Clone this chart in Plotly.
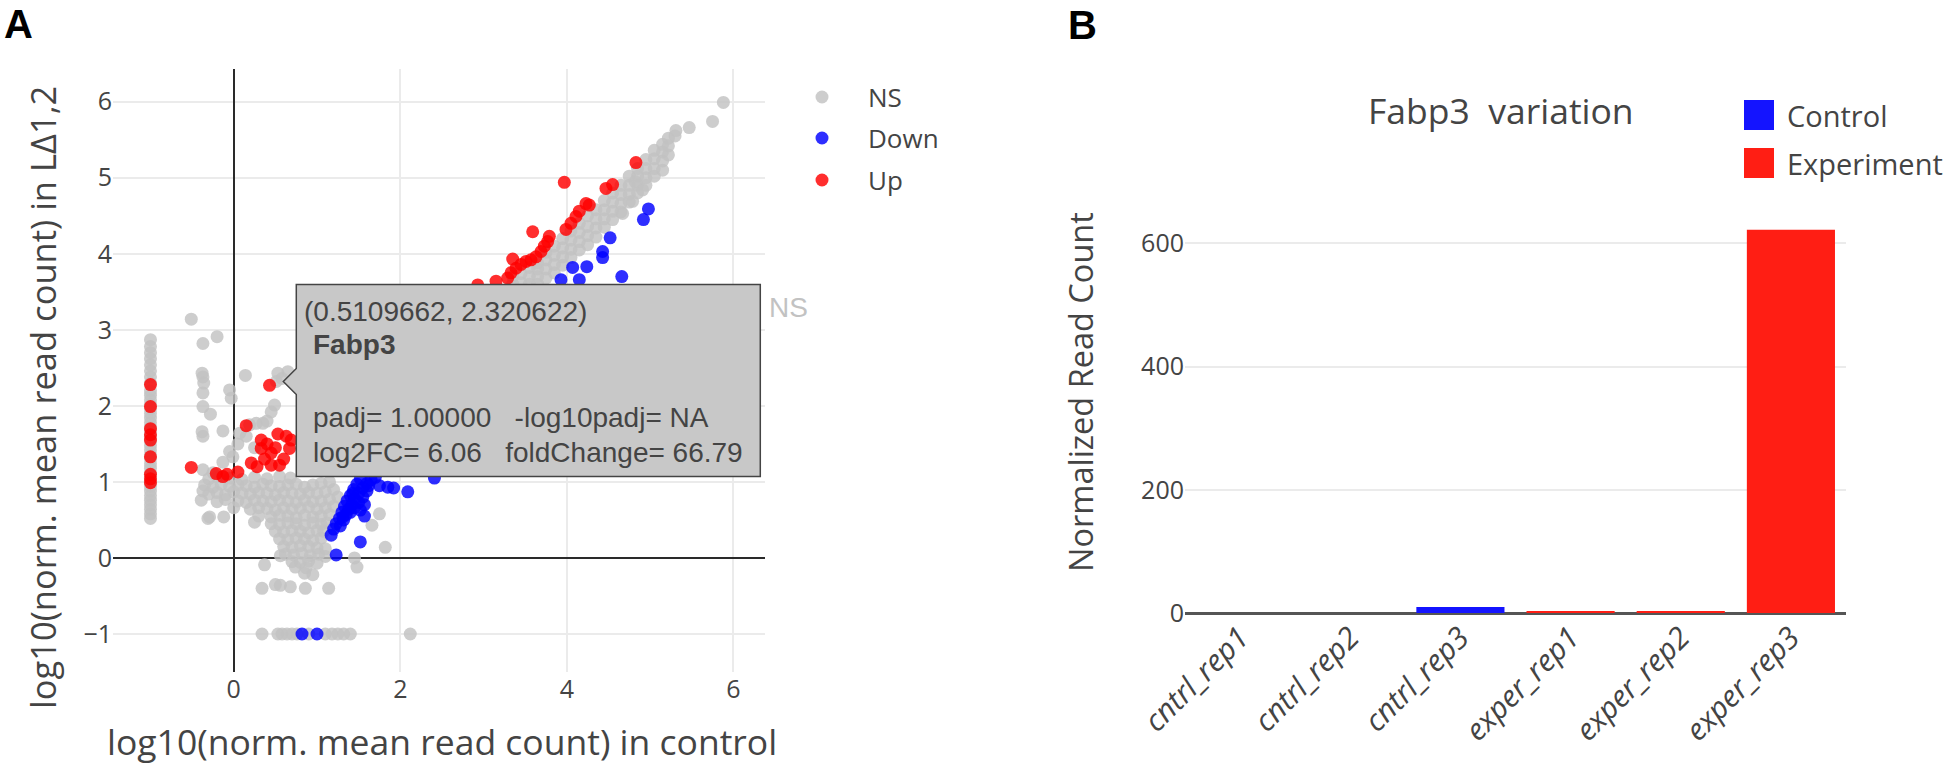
import plotly.graph_objects as go

W, H = 1946, 764

# ---------------- Panel A data (log10 normalized mean read counts) ----------------
ns_col_x = [-1.0, -1.0, -1.0, -1.0, -1.0, -1.0, -1.0, -1.0, -1.0, -1.0, -1.0, -1.0, -1.0,
            -1.0, -1.0, -1.0, -1.0, -1.0, -1.0, -1.0, -1.0, -1.0, -1.0, -1.0, -1.0, -1.0,
            -1.0, -1.0, -1.0, -1.0, -1.0, -1.0, -1.0, -1.0, -1.0, -1.0, -1.0]
ns_col_y = [0.52, 0.58, 0.64, 0.70, 0.76, 0.82, 0.88, 0.94, 1.00, 1.06, 1.12, 1.18, 1.24,
            1.30, 1.36, 1.42, 1.48, 1.54, 1.60, 1.66, 1.72, 1.78, 1.84, 1.90, 1.96, 2.02,
            2.08, 2.14, 2.20, 2.30, 2.38, 2.46, 2.54, 2.62, 2.70, 2.78, 2.87]

ns_left_x = [-0.51, -0.37, -0.20, -0.37, -0.37, -0.37, -0.28, -0.37, -0.13, -0.05, -0.03,
             0.14, 0.49, 0.53, 0.65, 0.58, -0.37, -0.25, 0.19, 0.27, 0.35, -0.01, -0.13,
             0.05, 0.15, -0.38, -0.36, -0.38, 0.40, 0.45, 0.25, 0.07, -0.05]
ns_left_y = [3.14, 2.82, 2.91, 2.38, 2.17, 1.99, 1.89, 1.60, 1.67, 2.21, 2.10,
             2.40, 2.01, 2.43, 2.45, 2.36, 1.16, 1.12, 1.75, 1.77, 1.77, 1.33, 1.26,
             1.50, 1.60, 2.43, 2.30, 1.66, 1.80, 1.92, 1.45, 1.64, 1.40]

ns_cloud_x = [-0.30, -0.20, -0.05, 0.10, 0.25, 0.40, 0.55, 0.68,
              -0.35, -0.25, -0.15, -0.05, 0.05, 0.15, 0.25, 0.35, 0.45, 0.55, 0.65, 0.75, 0.85, 0.95, 1.05, 1.15,
              -0.30, -0.20, -0.10, 0.00, 0.10, 0.20, 0.30, 0.40, 0.50, 0.60, 0.70, 0.80, 0.90, 1.00, 1.10, 1.20,
              -0.20, -0.10, 0.05, 0.15, 0.25, 0.35, 0.45, 0.55, 0.65, 0.75, 0.85, 0.95, 1.05, 1.15, 1.25,
              0.00, 0.20, 0.30, 0.40, 0.50, 0.60, 0.70, 0.80, 0.90, 1.00, 1.10, 1.20,
              0.30, 0.45, 0.55, 0.65, 0.75, 0.85, 0.95, 1.05, 1.15,
              0.45, 0.55, 0.65, 0.75, 0.85, 0.95, 1.05, 1.12,
              0.50, 0.60, 0.70, 0.80, 0.90, 1.00, 1.08,
              0.55, 0.65, 0.75, 0.85, 0.95, 1.05,
              0.60, 0.70, 0.80, 0.90, 1.00, 1.10,
              0.62, 0.72, 0.82, 0.92, 1.02, 1.10,
              0.70, 0.80, 0.90, 1.00,
              0.37, 0.74, 0.87, 1.48, 0.85, 0.95, 1.45, 1.82, 0.56,
              0.34, 0.50, 0.56, 0.68, 0.86, 1.14,
              1.66, 1.75, -0.39, -0.31, 0.25, -0.12, -0.37, -0.29,
              0.34, 0.53, 0.58, 0.64, 0.70, 0.76, 0.90, 1.10, 1.18, 1.25, 1.32, 1.40, 2.12]
ns_cloud_y = [1.04, 1.07, 1.05, 1.03, 1.06, 1.04, 1.07, 1.05,
              0.96, 0.93, 0.97, 0.94, 0.96, 0.95, 0.93, 0.97, 0.95, 0.94, 0.96, 0.97, 0.93, 0.96, 0.98, 1.00,
              0.84, 0.86, 0.83, 0.87, 0.85, 0.84, 0.86, 0.85, 0.83, 0.86, 0.85, 0.84, 0.86, 0.85, 0.87, 0.90,
              0.74, 0.77, 0.75, 0.73, 0.76, 0.75, 0.74, 0.76, 0.75, 0.73, 0.76, 0.74, 0.75, 0.77, 0.80,
              0.66, 0.64, 0.66, 0.65, 0.63, 0.66, 0.64, 0.65, 0.67, 0.64, 0.66, 0.68,
              0.55, 0.54, 0.56, 0.55, 0.53, 0.56, 0.54, 0.55, 0.57,
              0.45, 0.44, 0.46, 0.45, 0.43, 0.46, 0.44, 0.46,
              0.35, 0.34, 0.36, 0.35, 0.33, 0.36, 0.35,
              0.25, 0.24, 0.26, 0.25, 0.23, 0.26,
              0.15, 0.14, 0.16, 0.15, 0.13, 0.12,
              0.05, 0.04, 0.06, 0.03, 0.05, 0.02,
              -0.05, -0.06, -0.04, -0.07,
              -0.09, -0.12, -0.13, -0.12, -0.20, -0.22, 0.00, 0.14, 0.03,
              -0.40, -0.35, -0.36, -0.38, -0.40, -0.40,
              0.43, 0.58, 0.76, 0.52, 0.47, 0.54, 0.88, 0.54,
              -1.0, -1.0, -1.0, -1.0, -1.0, -1.0, -1.0, -1.0, -1.0, -1.0, -1.0, -1.0, -1.0]

ns_band_x = [3.35, 3.35, 3.45, 3.45, 3.55, 3.55, 3.55,
             3.65, 3.65, 3.65, 3.65, 3.75, 3.75, 3.75, 3.75, 3.85, 3.85, 3.85, 3.85,
             3.95, 3.95, 3.95, 3.95, 4.05, 4.05, 4.05, 4.05, 4.15, 4.15, 4.15, 4.15,
             4.25, 4.25, 4.25, 4.25, 4.35, 4.35, 4.35, 4.35, 4.45, 4.45, 4.45, 4.45,
             4.55, 4.55, 4.55, 4.55, 4.65, 4.65, 4.65, 4.65, 4.75, 4.75, 4.75, 4.75,
             4.85, 4.85, 4.85, 4.85, 4.95, 4.95, 4.95, 4.95, 5.05, 5.05, 5.05, 5.05,
             5.15, 5.15, 5.15, 5.15, 5.22, 5.22, 5.22,
             5.31, 5.30, 5.47, 5.75, 5.88, 4.67, 4.79, 4.91, 4.82,
             1.30, 1.60, 1.90, 2.20, 2.50, 2.80, 3.10, 2.00, 2.60, 3.20]
ns_band_y = [3.60, 3.70, 3.62, 3.74, 3.60, 3.70, 3.82,
             3.60, 3.70, 3.80, 3.88, 3.68, 3.80, 3.92, 4.02, 3.75, 3.86, 3.98, 4.10,
             3.85, 3.96, 4.08, 4.20, 3.95, 4.06, 4.18, 4.30, 4.05, 4.16, 4.28, 4.40,
             4.12, 4.24, 4.36, 4.50, 4.22, 4.34, 4.46, 4.58, 4.35, 4.46, 4.58, 4.70,
             4.45, 4.56, 4.68, 4.80, 4.55, 4.66, 4.78, 4.90, 4.68, 4.78, 4.90, 5.02,
             4.80, 4.90, 5.02, 5.12, 4.90, 5.00, 5.12, 5.24, 5.02, 5.12, 5.25, 5.36,
             5.10, 5.22, 5.34, 5.44, 5.30, 5.42, 5.52,
             5.62, 5.55, 5.66, 5.74, 5.99, 4.53, 4.69, 4.84, 4.95,
             1.20, 1.50, 1.80, 2.10, 2.40, 2.80, 3.20, 2.20, 2.70, 3.40]

down_x = [1.17, 1.20, 1.23, 1.27, 1.30, 1.33, 1.36, 1.40, 1.44, 1.48, 1.52,
          1.28, 1.32, 1.35, 1.38, 1.42, 1.45, 1.50, 1.55, 1.60, 1.65, 1.70,
          1.40, 1.45, 1.50, 1.55, 1.60, 1.62, 1.52, 1.57,
          1.85, 1.92, 2.09, 2.41, 1.52, 1.23, 1.57, 1.75, 1.31, 1.43, 0.82, 1.00,
          4.98, 4.92, 4.52, 4.43, 4.43, 4.24, 4.07, 4.66, 3.93, 4.15,
          2.30, 2.70, 3.10, 3.50]
down_y = [0.30, 0.38, 0.45, 0.52, 0.60, 0.68, 0.75, 0.82, 0.90, 0.97, 1.04,
          0.42, 0.50, 0.57, 0.64, 0.70, 0.78, 0.85, 0.92, 0.98, 1.03, 1.06,
          0.60, 0.66, 0.73, 0.80, 0.88, 0.95, 0.63, 0.70,
          0.93, 0.92, 0.87, 1.05, 0.21, 0.04, 0.55, 0.95, 0.54, 0.85, -1.0, -1.0,
          4.59, 4.45, 4.21, 4.03, 3.95, 3.83, 3.82, 3.70, 3.66, 3.66,
          1.70, 2.10, 2.60, 3.00]

up_x = [-1.0, -1.0, -1.0, -1.0, -1.0, -1.0, -1.0, -1.0, -1.0,
        -0.51, -0.21, -0.13, -0.08, 0.05, 0.15, 0.43, 0.33, 0.21, 0.33, 0.37,
        0.45, 0.55, 0.45, 0.53, 0.63, 0.67, 0.69, 0.28, 0.60, 0.40, 0.50,
        4.83, 3.97, 4.47, 4.55, 4.23, 4.27, 4.15, 4.11, 4.05, 3.99, 3.59, 3.79,
        3.77, 3.73, 3.69, 3.63, 3.57, 3.51, 3.45, 3.39, 3.35, 3.33, 3.29, 3.15, 2.93,
        1.00, 1.50, 2.00, 2.50]
up_y = [2.28, 1.99, 1.70, 1.62, 1.55, 1.33, 1.10, 1.04, 0.99,
        1.19, 1.11, 1.07, 1.10, 1.13, 1.74, 2.27, 1.55, 1.25, 1.44, 1.30,
        1.22, 1.22, 1.38, 1.63, 1.60, 1.44, 1.55, 1.20, 1.30, 1.50, 1.45,
        5.20, 4.94, 4.86, 4.91, 4.66, 4.64, 4.56, 4.49, 4.40, 4.32, 4.29, 4.23,
        4.16, 4.10, 4.03, 3.96, 3.92, 3.90, 3.86, 3.81, 3.93, 3.75, 3.68, 3.64, 3.59,
        1.60, 2.10, 2.60, 3.10]

# hovered gene
fabp3_x = 0.5109662
fabp3_y = 2.320622
fabp3_padj = "1.00000"
fabp3_log10padj = "NA"
fabp3_log2fc = 6.06
fabp3_foldchange = 66.79

ns_x = ns_col_x + ns_left_x + ns_cloud_x + ns_band_x + [fabp3_x]
ns_y = ns_col_y + ns_left_y + ns_cloud_y + ns_band_y + [fabp3_y]

x_ticks_a = [0, 2, 4, 6]
y_ticks_a = [-1, 0, 1, 2, 3, 4, 5, 6]

# ---------------- Panel B data ----------------
ctrl_samples = ["cntrl_rep1", "cntrl_rep2", "cntrl_rep3"]
ctrl_counts = [0.0, 0.0, 9.73]
exper_samples = ["exper_rep1", "exper_rep2", "exper_rep3"]
exper_counts = [2.7, 2.9, 622.1]
y_ticks_b = [0, 200, 400, 600]

NS_COLOR = "#c2c2c2"
DOWN_COLOR = "#0000ff"
UP_COLOR = "#ff0000"
CTRL_COLOR = "#1414ff"
EXPER_COLOR = "#ff1e14"
TXT = "#444444"
GRID = "#ebebeb"
FONT = "Open Sans, DejaVu Sans, sans-serif"
ARIAL = "Liberation Sans, Arial, sans-serif"


def fx(p):
    return p / W


def fy(p):
    return 1 - p / H


fig = go.Figure()
for xs, ys, nm, col in [(ns_x, ns_y, "NS", NS_COLOR),
                        (down_x, down_y, "Down", DOWN_COLOR),
                        (up_x, up_y, "Up", UP_COLOR)]:
    fig.add_trace(go.Scatter(x=xs, y=ys, mode="markers", name=nm,
                             marker=dict(color=col, size=13, opacity=0.82, line=dict(width=0)),
                             xaxis="x", yaxis="y", showlegend=False))

fig.add_trace(go.Bar(x=ctrl_samples, y=ctrl_counts, name="Control", marker=dict(color=CTRL_COLOR, line=dict(width=0)),
                     xaxis="x2", yaxis="y2", showlegend=False, width=0.8))
fig.add_trace(go.Bar(x=exper_samples, y=exper_counts, name="Experiment", marker=dict(color=EXPER_COLOR, line=dict(width=0)),
                     xaxis="x2", yaxis="y2", showlegend=False, width=0.8))

# axes
left_px, right_px, top_px, bot_px = 113, 765, 69, 672
b_left, b_right, b_top, b_bot = 1185, 1846, 210, 613

fig.update_layout(
    width=W, height=H, margin=dict(l=0, r=0, t=0, b=0, autoexpand=False),
    paper_bgcolor="white", plot_bgcolor="white", showlegend=False,
    barmode="overlay",
    font=dict(family=FONT, color=TXT),
    xaxis=dict(domain=[fx(left_px), fx(right_px)], range=[-1.45, 6.38], tickvals=x_ticks_a, automargin=False,
               showgrid=True, gridcolor=GRID, gridwidth=1.5, zeroline=True, zerolinecolor="#2a2a2a",
               zerolinewidth=2, showline=False, ticks="", tickfont=dict(size=25, color=TXT), anchor="y"),
    yaxis=dict(domain=[fy(bot_px), fy(top_px)], range=[-1.5, 6.43], tickvals=y_ticks_a, automargin=False,
               showgrid=True, gridcolor=GRID, gridwidth=1.5, zeroline=True, zerolinecolor="#2a2a2a",
               zerolinewidth=2, showline=False, ticks="", tickfont=dict(size=25, color=TXT), anchor="x"),
    xaxis2=dict(domain=[fx(b_left), fx(b_right)], type="category", automargin=False,
                categoryorder="array", categoryarray=ctrl_samples + exper_samples,
                range=[-0.5, 5.5], tickangle=-45, showgrid=False, zeroline=False, showline=False,
                ticks="", tickfont=dict(size=30, color=TXT, style="italic"), anchor="y2"),
    yaxis2=dict(domain=[fy(b_bot), fy(b_top)], range=[0, 654], tickvals=y_ticks_b, automargin=False,
                showgrid=True, gridcolor=GRID, gridwidth=1.5, zeroline=True, zerolinecolor="#555555",
                zerolinewidth=2.5, showline=False, ticks="", tickfont=dict(size=25, color=TXT), anchor="x2"),
)

ann = []
shapes = []

# panel letters
ann.append(dict(text="<b>A</b>", x=fx(2), y=fy(24), xref="paper", yref="paper", xanchor="left",
                yanchor="middle", showarrow=False, font=dict(family=ARIAL, size=40, color="black")))
ann.append(dict(text="<b>B</b>", x=fx(1066), y=fy(25), xref="paper", yref="paper", xanchor="left",
                yanchor="middle", showarrow=False, font=dict(family=ARIAL, size=40, color="black")))

# axis titles
ann.append(dict(text="log10(norm. mean read count) in LΔ1,2", x=fx(42), y=fy(398), xref="paper", yref="paper",
                textangle=-90, xanchor="center", yanchor="middle", showarrow=False,
                font=dict(family=FONT, size=34.5, color=TXT)))
ann.append(dict(text="log10(norm. mean read count) in control", x=fx(442), y=fy(741), xref="paper", yref="paper",
                xanchor="center", yanchor="middle", showarrow=False, font=dict(family=FONT, size=35.5, color=TXT)))
ann.append(dict(text="Normalized Read Count", x=fx(1080), y=fy(392), xref="paper", yref="paper",
                textangle=-90, xanchor="center", yanchor="middle", showarrow=False,
                font=dict(family=FONT, size=32.5, color=TXT)))
ann.append(dict(text="Fabp3  variation", x=fx(1501), y=fy(110), xref="paper", yref="paper",
                xanchor="center", yanchor="middle", showarrow=False, font=dict(family=FONT, size=35.5, color=TXT)))

# legend A (manual)
for i, (nm, col) in enumerate([("NS", NS_COLOR), ("Down", DOWN_COLOR), ("Up", UP_COLOR)]):
    cy = [97, 138, 180][i]
    shapes.append(dict(type="circle", xref="paper", yref="paper", xsizemode="pixel", ysizemode="pixel",
                       xanchor=fx(822), yanchor=fy(cy), x0=-6.5, x1=6.5, y0=-6.5, y1=6.5,
                       fillcolor=col, opacity=0.82, line=dict(width=0)))
    ann.append(dict(text=nm, x=fx(866), y=fy(cy), xref="paper", yref="paper", xanchor="left", yanchor="middle",
                    showarrow=False, font=dict(family=FONT, size=26, color=TXT)))

# legend B (manual)
for i, (nm, col) in enumerate([("Control", CTRL_COLOR), ("Experiment", EXPER_COLOR)]):
    cy = [115, 163][i]
    shapes.append(dict(type="rect", xref="paper", yref="paper", xsizemode="pixel", ysizemode="pixel",
                       xanchor=fx(1759), yanchor=fy(cy), x0=-15, x1=15, y0=-15, y1=15,
                       fillcolor=col, line=dict(width=0)))
    ann.append(dict(text=nm, x=fx(1785), y=fy(cy), xref="paper", yref="paper", xanchor="left", yanchor="middle",
                    showarrow=False, font=dict(family=FONT, size=29, color=TXT)))

# hover label for Fabp3
shapes.append(dict(type="path", xref="x", yref="y", xsizemode="pixel", ysizemode="pixel",
                   xanchor=fabp3_x, yanchor=fabp3_y,
                   path="M7,0 L20,13 L20,97 L484,97 L484,-95 L20,-95 L20,-13 Z",
                   fillcolor="#c8c8c8", line=dict(color="#444444", width=1.5), layer="above"))
hover_lines = [
    (f"({fabp3_x}, {fabp3_y})", 26, 70),
    ("<b>Fabp3</b>", 35, 37),
    (f"padj= {fabp3_padj}   -log10padj= {fabp3_log10padj}", 35, -36),
    (f"log2FC= {fabp3_log2fc:.2f}   foldChange= {fabp3_foldchange:.2f}", 35, -71),
]
for txt, xs, ys in hover_lines:
    ann.append(dict(text=txt, x=fabp3_x, y=fabp3_y, xref="x", yref="y", xanchor="left", yanchor="middle",
                    xshift=xs, yshift=ys, showarrow=False, font=dict(family=ARIAL, size=28, color=TXT)))
ann.append(dict(text="NS", x=fabp3_x, y=fabp3_y, xref="x", yref="y", xanchor="left", yanchor="middle",
                xshift=491, yshift=74, showarrow=False, font=dict(family=ARIAL, size=28, color=NS_COLOR)))

fig.update_layout(annotations=ann, shapes=shapes)
fig.write_html("out.html", config={"displayModeBar": False},
               post_script="document.body.style.margin='0';document.body.style.overflow='hidden';")
